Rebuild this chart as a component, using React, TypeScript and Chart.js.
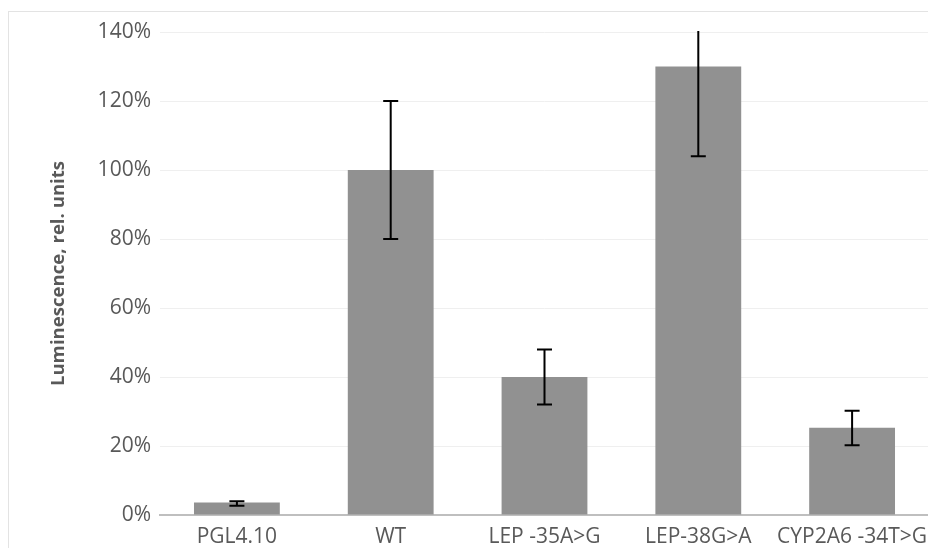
import React, { useEffect, useRef } from "react";
import { Chart, registerables } from "chart.js";

Chart.register(...registerables);

const categories = ["PGL4.10", "WT", "LEP -35A>G", "LEP-38G>A", "CYP2A6 -34T>G"];
const values = [3.6, 100, 40, 130, 25.3];
const errLow = [2.7, 80, 32, 104, 20.2];
const errHigh = [4.0, 120, 48, 156, 30.2];
const yTicks = [0, 20, 40, 60, 80, 100, 120, 140];

const errorBarPlugin = {
  id: "errorBars",
  afterDatasetsDraw(chart: any) {
    const { ctx, chartArea, scales } = chart;
    const meta = chart.getDatasetMeta(0);
    ctx.save();
    ctx.beginPath();
    ctx.rect(chartArea.left, chartArea.top - 1, chartArea.right - chartArea.left, chartArea.bottom - chartArea.top + 2);
    ctx.clip();
    ctx.strokeStyle = "#000000";
    ctx.lineWidth = 2;
    meta.data.forEach((bar: any, i: number) => {
      const x = bar.x;
      const yl = scales.y.getPixelForValue(errLow[i]);
      const yh = scales.y.getPixelForValue(errHigh[i]);
      const cw = 7.5;
      ctx.beginPath();
      ctx.moveTo(x, yl);
      ctx.lineTo(x, yh);
      ctx.moveTo(x - cw, yl);
      ctx.lineTo(x + cw, yl);
      ctx.moveTo(x - cw, yh);
      ctx.lineTo(x + cw, yh);
      ctx.stroke();
    });
    ctx.restore();
  },
};

export default function App() {
  const ref = useRef<HTMLCanvasElement>(null);
  useEffect(() => {
    if (!ref.current) return;
    const chart = new Chart(ref.current, {
      type: "bar",
      data: {
        labels: categories,
        datasets: [
          {
            data: values,
            backgroundColor: "#919191",
            borderWidth: 0,
            barPercentage: 0.558,
            categoryPercentage: 1,
          },
        ],
      },
      options: {
        animation: false,
        responsive: false,
        maintainAspectRatio: false,
        layout: { padding: { left: 0, right: 7, top: 24, bottom: 0 } },
        plugins: { legend: { display: false }, tooltip: { enabled: false } },
        scales: {
          x: {
            grid: { display: false },
            border: { color: "#bfbfbf", width: 2 },
            ticks: {
              color: "#595959",
              font: { family: "'Open Sans'", size: 21 },
              padding: 1,
              maxRotation: 0,
              autoSkip: false,
            },
            afterFit: (s: any) => {
              s.height = 33;
            },
          },
          y: {
            min: 0,
            max: 140,
            afterBuildTicks: (s: any) => {
              s.ticks = yTicks.map((v) => ({ value: v }));
            },
            grid: { color: "#efefef", lineWidth: 1, drawTicks: false },
            border: { display: false },
            ticks: {
              color: "#595959",
              font: { family: "'Open Sans'", size: 21 },
              padding: 9,
              callback: (v: any) => v + "%",
            },
            title: {
              display: true,
              text: "Luminescence, rel. units",
              color: "#595959",
              font: { family: "'Open Sans'", size: 18.6, weight: "bold" },
              padding: { top: 40, bottom: 0 },
            },
            afterFit: (s: any) => {
              s.width = 152;
            },
          },
        },
      },
      plugins: [errorBarPlugin],
    });
    return () => chart.destroy();
  }, []);
  return (
    <div style={{ position: "relative", width: 928, height: 540 }}>
      <div style={{ position: "absolute", left: 0, top: 3, width: 1, height: 537, background: "#e3e3e3" }} />
      <div style={{ position: "absolute", left: 0, top: 3, width: 928, height: 1, background: "#e3e3e3" }} />
      <canvas ref={ref} width={928} height={540} style={{ position: "absolute", left: 0, top: 0 }} />
    </div>
  );
}
